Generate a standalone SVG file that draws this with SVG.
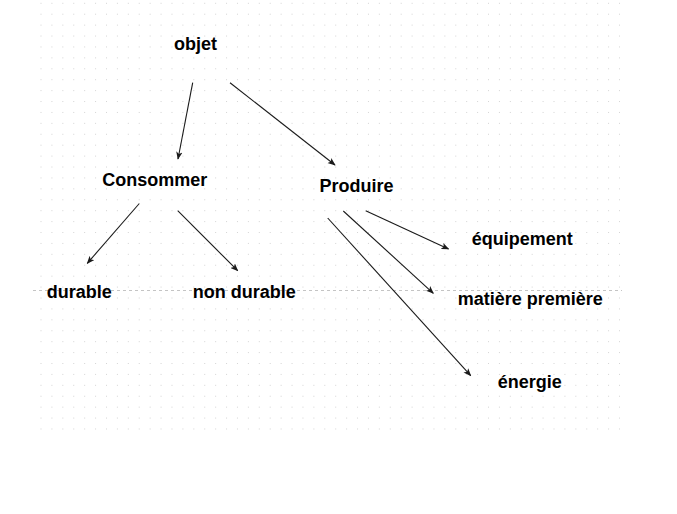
<svg xmlns="http://www.w3.org/2000/svg" width="677" height="514" viewBox="0 0 677 514">
<style>
  .lbl { font-family: "Liberation Sans", Arial, sans-serif; font-weight: bold; font-size: 18px; fill: #000; }
  .edge { stroke: #1a1a1a; stroke-width: 1.1; fill: none; marker-end: url(#arr); }
</style>
<defs>
  <pattern id="grid" x="40.5" y="2.8" width="10.915" height="10.915" patternUnits="userSpaceOnUse">
    <rect x="0" y="0" width="1" height="1" fill="#d4d4d4"/>
  </pattern>
  <marker id="arr" viewBox="0 0 10 8" refX="9" refY="4" markerWidth="8" markerHeight="7" markerUnits="userSpaceOnUse" orient="auto">
    <path d="M0,0 L10,4 L0,8 L2.5,4 Z" fill="#1a1a1a"/>
  </marker>
</defs>
<rect width="677" height="514" fill="#fff"/>
<rect x="40" y="2" width="582" height="429" fill="url(#grid)"/>
<line x1="33" y1="290.5" x2="622" y2="290.5" stroke="#c4c4c4" stroke-width="1" stroke-dasharray="3,3"/>
<g id="connectors">
  <line class="edge" x1="192.7" y1="82.7" x2="178" y2="159"/>
  <line class="edge" x1="230" y1="82.7" x2="335" y2="165"/>
  <line class="edge" x1="139.3" y1="203.5" x2="87.3" y2="263.3"/>
  <line class="edge" x1="177.7" y1="210.7" x2="237.7" y2="270.7"/>
  <line class="edge" x1="365.7" y1="210.7" x2="448.5" y2="249"/>
  <line class="edge" x1="343.3" y1="211" x2="433.3" y2="293.3"/>
  <line class="edge" x1="327.7" y1="218" x2="470.7" y2="375.7"/>
</g>
<g id="objet"><text class="lbl" x="174" y="50">objet</text></g>
<g id="consommer"><text class="lbl" x="102.3" y="186">Consommer</text></g>
<g id="produire"><text class="lbl" x="319.5" y="192">Produire</text></g>
<g id="durable"><text class="lbl" x="46.7" y="297.5">durable</text></g>
<g id="non-durable"><text class="lbl" x="192.7" y="297.5">non durable</text></g>
<g id="equipement"><text class="lbl" x="471.7" y="245">équipement</text></g>
<g id="matiere-premiere"><text class="lbl" x="457.7" y="305">matière première</text></g>
<g id="energie"><text class="lbl" x="497.7" y="388">énergie</text></g>
</svg>
